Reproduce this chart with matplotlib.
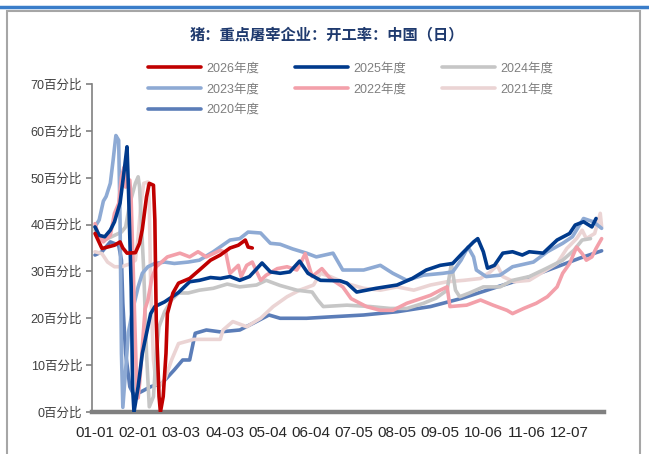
import matplotlib
matplotlib.use("Agg")
import matplotlib.pyplot as plt
from matplotlib.lines import Line2D
from matplotlib.patches import Rectangle

plt.rcParams['font.family'] = ['Liberation Sans', 'Noto Sans CJK SC']

title = "猪：重点屠宰企业：开工率：中国（日）"
tick_pos = [0, 31, 62, 93, 124, 155, 186, 217, 248, 279, 310, 341]
tick_labels = ["01-01", "02-01", "03-03", "04-03", "05-04", "06-04",
               "07-05", "08-05", "09-05", "10-06", "11-06", "12-07"]
y_ticks = [0, 10, 20, 30, 40, 50, 60, 70]

days_2026 = [0, 5, 9, 14, 18, 20, 23, 29, 32, 34, 37, 39, 42, 43, 44, 46, 47, 49, 51, 52,
             56, 60, 68, 75, 83, 90, 97, 103, 108, 110, 113]
vals_2026 = [38.1, 34.9, 35.2, 35.6, 36.3, 35, 33.9, 34, 36, 39, 45.9, 48.8, 48.4, 41, 19.6,
             3.3, 0, 3.3, 12.5, 21, 25.4, 27.5, 28.5, 30.3, 32.4, 33.5, 35, 35.6, 36.7, 35.2, 35]

days_2025 = [0, 3, 7, 11, 14, 18, 21, 23, 24, 26, 27, 28, 31, 34, 38, 40, 43, 50, 60, 68,
             75, 83, 90, 97, 104, 111, 120, 126, 133, 140, 147, 153, 162, 176, 181, 188, 202,
             217, 228, 238, 248, 257, 264, 272, 275, 279, 282, 287, 293, 300, 307, 312, 322,
             332, 341, 345, 351, 357, 360]
vals_2025 = [39.5, 37.7, 37.4, 38.8, 40.6, 44.6, 51.6, 56.6, 48, 26.7, 5.4, 0, 5.4, 12.5,
             18.2, 21, 22.5, 23.5, 25.5, 27.8, 28.1, 28.7, 28.5, 28.9, 28.1, 28.9, 31.8, 29.9,
             29.6, 29.9, 32.2, 29.6, 28.1, 28, 27.5, 25.6, 26.4, 27.1, 28.5, 30.3, 31.3, 31.7,
             33.9, 36.3, 37, 34.2, 30.7, 31.3, 33.9, 34.2, 33.5, 34.2, 33.9, 36.7, 38.1, 39.9,
             40.6, 39.5, 41.3]

days_2024 = [0, 5, 9, 14, 19, 22, 25, 29, 31, 32, 35, 37, 39, 42, 44, 46, 50, 55, 60, 67,
             75, 85, 95, 104, 116, 123, 133, 145, 156, 160, 164, 181, 198, 212, 224, 236, 245,
             253, 256, 259, 262, 269, 279, 291, 300, 312, 324, 336, 344, 350, 356]
vals_2024 = [38.8, 36.7, 37, 37.7, 38.4, 39.5, 44.5, 48.8, 50.2, 48, 30.3, 12.5, 1.1, 3.3,
             12.5, 18.2, 21.4, 23.9, 25.4, 25.4, 26, 26.4, 27.3, 26.7, 27.1, 28.1, 27, 26,
             25.6, 23.9, 22.5, 22.8, 22.5, 22.1, 22.1, 23.2, 24.3, 26, 31.7, 26, 24.6, 25.4,
             26.7, 26.7, 28.1, 28.9, 30.6, 32.4, 34.5, 36.7, 37]

days_2023 = [0, 3, 6, 8, 11, 13, 15, 17, 18, 19, 20, 22, 24, 27, 31, 34, 38, 43, 50, 57,
             67, 75, 85, 97, 104, 110, 119, 126, 133, 142, 152, 159, 171, 178, 193, 205, 214,
             224, 236, 250, 257, 263, 268, 272, 274, 281, 291, 300, 315, 325, 336, 343, 351,
             358, 364]
vals_2023 = [39.5, 41, 45, 46, 48.8, 53.7, 59, 58, 41, 12.5, 1, 9, 17, 21.7, 26.7, 29.6, 31,
             31.7, 32, 31.7, 32, 32.4, 34.2, 36.7, 37, 38.4, 38.2, 36, 35.8, 34.8, 33.9, 33.1,
             33.9, 30.3, 30.3, 31.3, 29.6, 28.1, 29.2, 29.6, 29.9, 32.4, 35.2, 33.1, 30.3,
             28.9, 29.2, 31, 32, 34.2, 36, 37.4, 41.3, 40.6, 39.2]

days_2022 = [0, 2, 6, 11, 14, 17, 19, 21, 22, 25, 26, 28, 30, 31, 32, 34, 36, 38, 41, 44,
             52, 61, 68, 74, 80, 85, 90, 94, 97, 103, 105, 109, 113, 119, 123, 131, 138, 145,
             147, 151, 156, 163, 169, 178, 184, 195, 205, 214, 224, 231, 241, 248, 253, 255,
             267, 277, 286, 296, 300, 308, 317, 325, 332, 336, 341, 346, 350, 353, 357, 360, 364]
vals_2022 = [40.2, 38.1, 36.3, 37.7, 42.4, 44.5, 50.2, 52.3, 48, 49.5, 45, 25, 5, 3, 6, 14,
             22, 23.9, 28.8, 31, 33.1, 33.9, 33.1, 34.2, 33.1, 33.8, 34.5, 34, 29.6, 31.3,
             28.9, 31.3, 32, 28.1, 29.2, 30.6, 31, 30.3, 31.3, 33.8, 28.9, 30.6, 28.5, 26.7,
             24.2, 22.5, 21.7, 21.7, 23.2, 23.9, 24.9, 26, 26.7, 22.5, 22.8, 23.9, 22.8, 21.7,
             21, 22.1, 23.2, 24.6, 26.7, 29.6, 31.7, 35.2, 33.8, 32.4, 33.1, 34.9, 37]

days_2021 = [0, 5, 9, 14, 19, 26, 29, 31, 33, 35, 38, 39, 40, 42, 44, 46, 50, 55, 60, 71,
             80, 90, 92, 99, 109, 119, 128, 138, 147, 157, 162, 169, 181, 193, 205, 217, 229,
             241, 253, 265, 277, 284, 289, 293, 301, 312, 322, 332, 339, 346, 350, 353, 359,
             363, 364]
vals_2021 = [34.2, 33.8, 32, 31, 31, 31.7, 32.4, 37.4, 44.5, 48.8, 49.1, 44.5, 26.7, 11.1,
             6.1, 5.4, 6.8, 11.1, 14.6, 15.5, 15.5, 15.5, 17.5, 19.3, 18.2, 20, 22.5, 24.6, 26,
             27.1, 29.6, 28.9, 27.4, 26.4, 26, 26.7, 26, 27.1, 27.8, 28.1, 28.5, 29.9, 31.3,
             28.9, 27.8, 28.1, 29.9, 31.7, 34.9, 37, 38.8, 37, 38.1, 42.4, 39.5]

days_2020 = [0, 5, 11, 17, 19, 20, 22, 25, 28, 33, 40, 48, 57, 63, 68, 72, 80, 90, 104, 114,
             125, 133, 152, 169, 193, 217, 241, 264, 289, 313, 332, 348, 364]
vals_2020 = [33.5, 34.2, 36.3, 35.6, 32.4, 23.2, 12.5, 5.4, 3.6, 4.3, 5.4, 6.1, 9, 11.1, 11.1,
             16.8, 17.5, 17.1, 17.5, 19, 20.7, 20, 20, 20.3, 20.7, 21.4, 22.5, 24.3, 26.7, 28.9,
             31, 32.8, 34.4]

series = {
    "2026年度": (days_2026, vals_2026, "#c00000"),
    "2025年度": (days_2025, vals_2025, "#003a8c"),
    "2024年度": (days_2024, vals_2024, "#c6c6c6"),
    "2023年度": (days_2023, vals_2023, "#8eaad4"),
    "2022年度": (days_2022, vals_2022, "#f3a0aa"),
    "2021年度": (days_2021, vals_2021, "#ebd4d4"),
    "2020年度": (days_2020, vals_2020, "#5b7db8"),
}
draw_order = ["2020年度", "2021年度", "2024年度", "2023年度", "2022年度", "2025年度", "2026年度"]
zorders = {name: i + 2 for i, name in enumerate(draw_order)}

fig = plt.figure(figsize=(6.49, 4.54), dpi=100)
ax = fig.add_axes([92 / 649, 42 / 454, 512 / 649, 328 / 454])

handles = {}
for name in draw_order:
    d, v, c = series[name]
    ln, = ax.plot(d, v, color=c, lw=2.6, solid_joinstyle='round',
                  solid_capstyle='round', zorder=zorders[name], label=name)
    handles[name] = ln

ax.set_xlim(-2.16, 365.7)
ax.set_ylim(0, 70)
ax.set_xticks(tick_pos)
ax.set_xticklabels(tick_labels, fontsize=11, color='#262626')
ax.tick_params(axis='x', length=0, pad=10)
ax.set_yticks(y_ticks)
ax.set_yticklabels([f"{t}百分比" for t in y_ticks], fontsize=9, color='#404040')
ax.tick_params(axis='y', direction='out', length=4, width=1.2, color='#808080', pad=3)
for s in ['top', 'right']:
    ax.spines[s].set_visible(False)
ax.spines['left'].set_color('#808080')
ax.spines['left'].set_linewidth(1.2)
ax.spines['bottom'].set_color('#808080')
ax.spines['bottom'].set_linewidth(3.2)

leg_order = ["2026年度", "2023年度", "2020年度", "2025年度", "2022年度", "2024年度", "2021年度"]
fig.legend([handles[n] for n in leg_order], leg_order, ncol=3, loc='upper left',
           bbox_to_anchor=(148 / 649, 1 - 62.5 / 454), frameon=False, fontsize=9,
           labelcolor='#7f7f7f', handlelength=4.27, handletextpad=0.4,
           columnspacing=2.84, borderpad=0, borderaxespad=0, labelspacing=0.7)

fig.text(0.503, 1 - 34 / 454, title, ha='center', va='center', fontsize=11,
         fontweight='bold', color='#1f3a6e', family=['Noto Sans CJK SC'])

fig.add_artist(Rectangle((7 / 649, -0.02), 633 / 649, 1.02 - 11 / 454,
                         transform=fig.transFigure, fill=False, ec='#a6a6a6', lw=1.5))
fig.add_artist(Line2D([0, 1], [1 - 6.5 / 454] * 2, transform=fig.transFigure,
                      color='#3a7dc9', lw=2.5))

fig.savefig("out.png", dpi=100)
